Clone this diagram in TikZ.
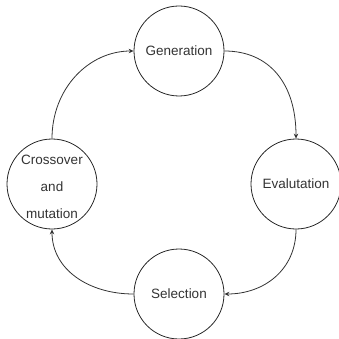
\documentclass[tikz,border=0pt]{standalone}
\usepackage{fontspec}
\setmainfont{Liberation Sans}
\usetikzlibrary{arrows.meta}
\tikzset{
  circ/.style={circle, draw=black!85, line width=0.8pt, minimum size=90pt, inner sep=0pt},
  lbl/.style={text=black!80, font=\fontsize{13.5}{27}\selectfont, align=center, inner sep=0pt},
  conn/.style={draw=black!80, line width=0.8pt, -{Stealth[length=5pt,width=4.5pt]}}
}
\begin{document}
\begin{tikzpicture}[x=1pt,y=-1pt]
\useasboundingbox (0,0) rectangle (339,339);
\node[circ] (gen) at (179,51) {};
\node[circ] (eval) at (296,184) {};
\node[circ] (sel) at (179,294) {};
\node[circ] (co) at (52,184) {};
\node[lbl] (tgen) at (gen) {Generation};
\node[lbl] (teval) at (eval) {Evalutation};
\node[lbl] (tsel) at (sel) {Selection};
\node[lbl] (tco) at (52,187) {Crossover\\and\\mutation};
\draw[conn] (gen.east) .. controls +(45,0) and +(0,-55) .. (eval.north);
\draw[conn] (eval.south) .. controls +(0,40) and +(40,0) .. (sel.east);
\draw[conn] (sel.west) .. controls +(-45,0) and +(0,40) .. (co.south);
\draw[conn] (co.north) .. controls +(0,-50) and +(-45,0) .. (gen.west);
\end{tikzpicture}
\end{document}
